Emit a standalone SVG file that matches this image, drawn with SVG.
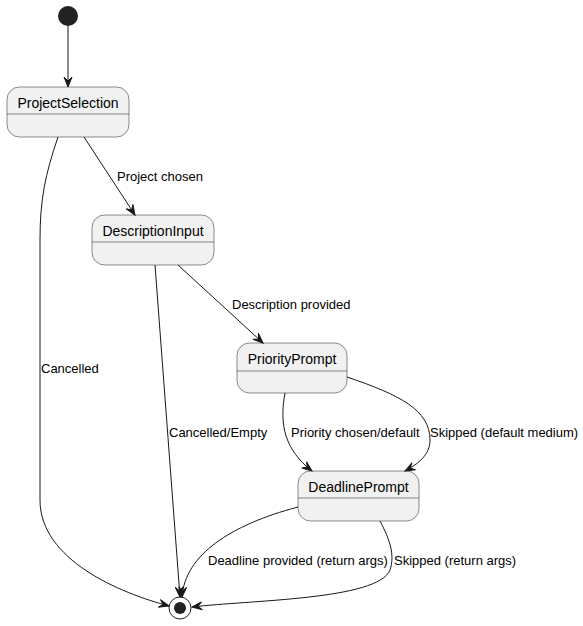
<svg xmlns="http://www.w3.org/2000/svg" width="583" height="626" viewBox="0 0 583 626">
<style>
.st rect{fill:#F1F1F1;stroke:#181818;stroke-width:0.5}
.st line{stroke:#181818;stroke-width:0.5}
.nm{font-family:"Liberation Sans",Arial,sans-serif;font-size:14px;fill:#000;text-anchor:middle}
.lb{font-family:"Liberation Sans",Arial,sans-serif;font-size:13px;fill:#000}
.edges path{fill:none;stroke:#181818;stroke-width:1}
</style>
<defs>
<marker id="arr" markerUnits="userSpaceOnUse" markerWidth="12" markerHeight="10" viewBox="-11 -5 12 10" refX="0" refY="0" orient="auto">
<path d="M0,0 L-10,-4 L-6,0 L-10,4 Z" fill="#181818" stroke="#181818" stroke-width="1"/>
</marker>
</defs>
<rect width="583" height="626" fill="#FFFFFF"/>
<g id="start"><circle cx="68" cy="16" r="10" fill="#222222"/></g>
<g id="end"><circle cx="180" cy="608" r="11" fill="none" stroke="#222222" stroke-width="1"/><circle cx="180" cy="608" r="6" fill="#222222"/></g>
<g id="ProjectSelection" class="st"><rect x="7" y="87" width="122" height="50" rx="12.5"/><line x1="7" y1="114" x2="129" y2="114"/><text class="nm" x="68" y="107.5">ProjectSelection</text></g>
<g id="DescriptionInput" class="st"><rect x="92" y="215" width="122" height="50" rx="12.5"/><line x1="92" y1="242" x2="214" y2="242"/><text class="nm" x="153" y="235.5">DescriptionInput</text></g>
<g id="PriorityPrompt" class="st"><rect x="237" y="343" width="110" height="50" rx="12.5"/><line x1="237" y1="371" x2="347" y2="371"/><text class="nm" x="292" y="363.5">PriorityPrompt</text></g>
<g id="DeadlinePrompt" class="st"><rect x="298" y="471" width="121" height="50" rx="12.5"/><line x1="298" y1="498" x2="419" y2="498"/><text class="nm" x="358.5" y="491.5">DeadlinePrompt</text></g>
<g class="edges" id="connectors">
<path d="M68,26 L68,87" marker-end="url(#arr)"/>
<path d="M84,137 L135,215" marker-end="url(#arr)"/>
<path d="M58,137 C45,175 40,200 40,240 L40,500 C40,560 120,593 169,606" marker-end="url(#arr)"/>
<path d="M178,265 L263,343" marker-end="url(#arr)"/>
<path d="M155,265 L180,597" marker-end="url(#arr)"/>
<path d="M285,393 C279,425 285,450 312,471" marker-end="url(#arr)"/>
<path d="M347,377 C400,395 430,410 430,440 C430,455 418,464 405,471" marker-end="url(#arr)"/>
<path d="M298,507 C230,525 185,555 182,597" marker-end="url(#arr)"/>
<path d="M380,521 C390,540 395,555 390,570 C378,600 250,600 192,607" marker-end="url(#arr)"/>
</g>
<g id="labels">
<text class="lb" x="117" y="181">Project chosen</text>
<text class="lb" x="41" y="373">Cancelled</text>
<text class="lb" x="232" y="309">Description provided</text>
<text class="lb" x="169" y="437">Cancelled/Empty</text>
<text class="lb" x="291" y="437">Priority chosen/default</text>
<text class="lb" x="430" y="437">Skipped (default medium)</text>
<text class="lb" x="208" y="565">Deadline provided (return args)</text>
<text class="lb" x="394" y="565">Skipped (return args)</text>
</g>
</svg>
